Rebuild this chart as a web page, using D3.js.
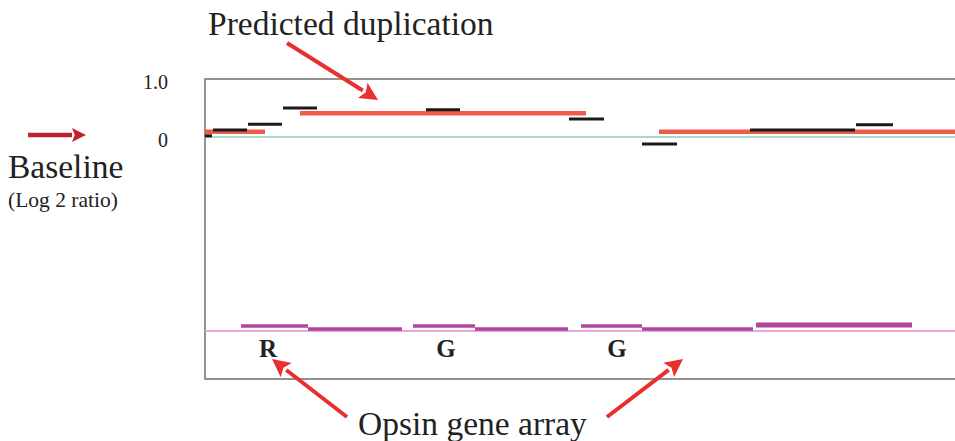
<!DOCTYPE html>
<html>
<head>
<meta charset="utf-8">
<script src="https://cdn.jsdelivr.net/npm/d3@7"></script>
<style>
  body { margin: 0; background: #fff; }
  text { font-family: "Liberation Serif", "DejaVu Serif", serif; fill: #222; }
</style>
</head>
<body>
<svg></svg>
<script>
// array CGH segments, x in kb from the left edge of the window
var blackStart = [0, 1.6, 8.6, 15.6, 44.2, 72.8, 87.4, 109, 130.2];
var blackEnd   = [1.4, 8.4, 15.4, 22.4, 51, 79.8, 94.4, 130, 137.6];
var blackValue = [0.02, 0.12, 0.22, 0.5, 0.47, 0.31, -0.12, 0.12, 0.21];

// predicted copy number segments (red)
var redStart = [0, 19, 90.8];
var redEnd   = [12, 76.2, 150];
var redValue = [0.09, 0.41, 0.09];

// opsin gene track
var geneStart = [7.2, 20.6, 41.6, 54, 75.2, 87.4, 110.2];
var geneEnd   = [20.6, 39.4, 54, 72.6, 87.4, 109.6, 141.4];
var geneLevel = [0.5, 0.2, 0.5, 0.2, 0.5, 0.2, 0.6];

var geneLabels = ["R", "G", "G"];
var geneLabelPos = [12.6, 48.2, 82.4];

var yTicks = [0, 1];
var yTickLabels = ["0", "1.0"];

var svgW = 955, svgH = 441;
var svg = d3.select("svg").attr("width", svgW).attr("height", svgH);

var plotLeft = 205, plotTop = 79, plotBottom = 379;

var xScale = d3.scaleLinear().domain([0, 150]).range([plotLeft, svgW]);
var yScale = d3.scaleLinear().domain([0, 1]).range([137, 79]);
var trackScale = d3.scaleLinear().domain([0, 1]).range([331, 321]);

// frame (no right edge)
svg.append("path")
  .attr("d", "M" + svgW + "," + plotTop + "H" + plotLeft + "V" + plotBottom + "H" + svgW)
  .attr("fill", "none")
  .attr("stroke", "#6f6f6f")
  .attr("stroke-width", 1.5);

// baseline (green)
svg.append("line")
  .attr("x1", xScale(0)).attr("x2", xScale(150))
  .attr("y1", yScale(0)).attr("y2", yScale(0))
  .attr("stroke", "#a6dcc6").attr("stroke-width", 2);

// red segments
svg.selectAll(".red")
  .data(redValue)
  .enter().append("line")
  .attr("class", "red")
  .attr("x1", function(d, i) { return xScale(redStart[i]); })
  .attr("x2", function(d, i) { return xScale(redEnd[i]); })
  .attr("y1", function(d) { return yScale(d); })
  .attr("y2", function(d) { return yScale(d); })
  .attr("stroke", "#f05240")
  .attr("stroke-width", 4.5)
  .attr("opacity", 0.95);

// black segments
svg.selectAll(".blk")
  .data(blackValue)
  .enter().append("line")
  .attr("class", "blk")
  .attr("x1", function(d, i) { return xScale(blackStart[i]); })
  .attr("x2", function(d, i) { return xScale(blackEnd[i]); })
  .attr("y1", function(d) { return yScale(d); })
  .attr("y2", function(d) { return yScale(d); })
  .attr("stroke", "#1a1a1a")
  .attr("stroke-width", 3);

// y axis labels
var yAxis = svg.append("g")
  .attr("transform", "translate(170,0)")
  .call(d3.axisLeft(yScale).tickValues(yTicks)
    .tickFormat(function(d, i) { return yTickLabels[i]; })
    .tickSize(0).tickPadding(2));
yAxis.select(".domain").remove();
yAxis.selectAll("text")
  .attr("dy", "0.45em")
  .style("font-family", "'Liberation Serif', serif")
  .style("font-size", "20px")
  .attr("fill", "#222");

// gene track
svg.append("line")
  .attr("x1", xScale(0)).attr("x2", xScale(150))
  .attr("y1", trackScale(0)).attr("y2", trackScale(0))
  .attr("stroke", "#e9a6dc").attr("stroke-width", 2);

svg.selectAll(".gene")
  .data(geneLevel)
  .enter().append("line")
  .attr("class", "gene")
  .attr("x1", function(d, i) { return xScale(geneStart[i]); })
  .attr("x2", function(d, i) { return xScale(geneEnd[i]); })
  .attr("y1", function(d) { return trackScale(d); })
  .attr("y2", function(d) { return trackScale(d); })
  .attr("stroke", "#b0449e")
  .attr("stroke-width", function(d) { return d > 0.55 ? 5 : 3.5; });

svg.selectAll(".glab")
  .data(geneLabels)
  .enter().append("text")
  .attr("class", "glab")
  .attr("x", function(d, i) { return xScale(geneLabelPos[i]); })
  .attr("y", 357)
  .attr("text-anchor", "middle")
  .style("font-size", "25px")
  .style("font-weight", "bold")
  .text(function(d) { return d; });

// annotations
svg.append("text").attr("x", 208).attr("y", 35)
  .style("font-size", "33.5px").text("Predicted duplication");
svg.append("text").attr("x", 8).attr("y", 178)
  .style("font-size", "33.5px").text("Baseline");
svg.append("text").attr("x", 8).attr("y", 207)
  .style("font-size", "21.5px").text("(Log 2 ratio)");
svg.append("text").attr("x", 358).attr("y", 435)
  .style("font-size", "33.5px").text("Opsin gene array");

// arrows
function arrow(x1, y1, x2, y2, color, w, head) {
  var ang = Math.atan2(y2 - y1, x2 - x1);
  var bx = x2 - head * Math.cos(ang), by = y2 - head * Math.sin(ang);
  svg.append("line")
    .attr("x1", x1).attr("y1", y1).attr("x2", bx).attr("y2", by)
    .attr("stroke", color).attr("stroke-width", w);
  var hw = head * 0.5;
  var px = -Math.sin(ang) * hw, py = Math.cos(ang) * hw;
  var nx = x2 - head * 0.8 * Math.cos(ang), ny = y2 - head * 0.8 * Math.sin(ang);
  svg.append("path")
    .attr("d", "M" + x2 + "," + y2 +
      "L" + (bx + px) + "," + (by + py) +
      "L" + nx + "," + ny +
      "L" + (bx - px) + "," + (by - py) + "Z")
    .attr("fill", color);
}

arrow(28, 135, 86, 135, "#c2202c", 4.5, 14);
arrow(287, 43, 378, 100, "#e8302e", 4, 18);
arrow(347, 417, 272, 359, "#e8302e", 4, 18);
arrow(607, 417, 683, 359, "#e8302e", 4, 18);
</script>
</body>
</html>
